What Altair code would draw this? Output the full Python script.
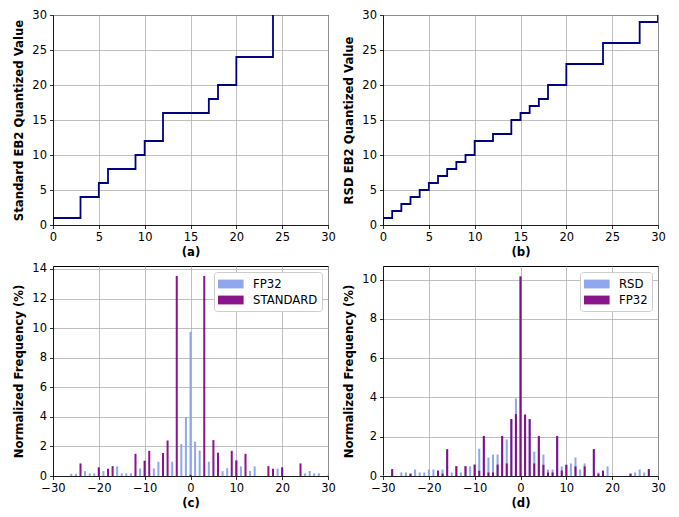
import altair as alt
import pandas as pd

# ---------------- data ----------------
# (a) Standard EB2 quantization (step-post)
a_x = [0, 0, 3, 5, 6, 9, 10, 12, 17, 18, 20, 24]
a_y = [0, 1, 4, 6, 8, 10, 12, 16, 18, 20, 24, 30]

# (b) RSD EB2 quantization (step-post)
b_x = [0, 0, 1, 2, 3, 4, 5, 6, 7, 8, 9, 10, 12, 14, 15, 16, 17, 18, 20, 24, 28, 30]
b_y = [0, 1, 2, 3, 4, 5, 6, 7, 8, 9, 10, 12, 13, 15, 16, 17, 18, 20, 23, 26, 29, 30]

# (c) FP32 vs STANDARD histogram (normalized frequency, %)
c_fp32_x = [-26, -25, -23, -22, -21, -20, -19, -16, -15, -14, -13, -11, -10, -8, -7, -4,
            -2, -1, 0, 1, 2, 4, 7, 8, 10, 11, 13, 14, 19, 20, 25, 26, 27, 28, 30]
c_fp32_y = [0.15, 0.15, 0.33, 0.18, 0.18, 0.58, 0.33, 0.65, 0.18, 0.18, 0.18, 0.51, 1.03, 0.51, 0.96, 0.96,
            2.16, 3.97, 9.75, 2.32, 1.72, 0.96, 0.33, 0.53, 1.05, 0.65, 0.33, 0.65, 0.50, 0.58, 0.18, 0.33, 0.18, 0.18, 0.04]
c_std_x = [-24, -20, -18, -17, -12, -10, -9, -6, -5, -3, 0, 3, 5, 6, 9, 10, 12, 17, 18, 20, 24]
c_std_y = [0.85, 0.58, 0.49, 0.67, 1.50, 1.03, 1.70, 1.56, 2.40, 13.53, 0.08, 13.53, 2.43, 1.58, 1.70, 1.05,
           1.50, 0.67, 0.49, 0.58, 0.85]

# (d) RSD vs FP32 histogram (normalized frequency, %)
d_rsd_x = [-30, -28, -26, -25, -24, -23, -22, -21, -20, -19, -18, -17, -16, -15, -14, -13, -12, -11, -10,
           -9, -8, -7, -6, -5, -4, -3, -2, -1, 0, 1, 2, 3, 4, 5, 6, 7, 8, 9, 10, 11, 12, 13, 14, 16,
           17, 18, 19, 24, 25, 26, 27, 28]
d_rsd_y = [0.05, 0.35, 0.18, 0.18, 0.12, 0.33, 0.18, 0.18, 0.33, 0.33, 0.27, 0.33, 1.36, 0.18, 0.50, 0.18, 0.50, 0.49, 0.58,
           1.39, 2.04, 0.94, 1.09, 1.09, 2.04, 1.86, 2.90, 3.95, 10.17, 3.13, 2.90, 1.24, 2.04, 1.09, 0.33, 0.33, 2.04, 0.49, 0.57, 0.64, 0.94, 0.33, 0.64, 1.37,
           0.18, 0.27, 0.49, 0.12, 0.18, 0.33, 0.18, 0.35]
d_fp32_x = [-28, -24, -18, -17, -16, -14, -12, -10, -9, -8, -7, -6, -5, -4, -3, -2, -1, 0,
            1, 2, 3, 4, 5, 6, 7, 8, 9, 10, 12, 14, 16, 17, 18, 24, 28]
d_fp32_y = [0.35, 0.12, 0.27, 0.12, 1.36, 0.50, 0.50, 0.58, 0.27, 2.04, 0.18, 0.18, 0.58, 2.04, 0.64, 2.90, 3.15, 10.17,
            3.13, 2.90, 0.64, 2.04, 0.57, 0.18, 0.18, 2.04, 0.28, 0.57, 0.49, 0.49, 1.37, 0.12, 0.27, 0.12, 0.35]

BLUE = "#86a0ec"
PURPLE = "#800080"
LINE = "#000080"
W, H = 275, 210
FS_LABEL = 11.5
FS_TITLE = 11.7


def step_panel(xs, ys, ytitle, xtitle):
    df = pd.DataFrame({"x": xs, "y": ys, "i": list(range(len(xs)))})
    return alt.Chart(df).mark_line(
        interpolate="step-after", color=LINE, strokeWidth=1.8, clip=True
    ).encode(
        x=alt.X("x:Q", scale=alt.Scale(domain=[0, 30], nice=False),
                axis=alt.Axis(values=list(range(0, 31, 5)), title=xtitle)),
        y=alt.Y("y:Q", scale=alt.Scale(domain=[0, 30], nice=False),
                axis=alt.Axis(values=list(range(0, 31, 5)), title=ytitle)),
        order=alt.Order("i:Q"),
    ).properties(width=W, height=H)


def hist_panel(n1, x1, y1, n2, x2, y2, ymax, yvals, xtitle):
    rows = []
    k = 0
    for xv, yv in zip(x1, y1):
        rows.append({"x": xv, "v": yv, "s": n1, "k": k}); k += 1
    for xv, yv in zip(x2, y2):
        rows.append({"x": xv, "v": yv, "s": n2, "k": k}); k += 1
    df = pd.DataFrame(rows)
    return alt.Chart(df).transform_calculate(
        xa="datum.x - 0.22", xb="datum.x + 0.22"
    ).mark_bar(clip=True, opacity=0.92).encode(
        x=alt.X("xa:Q", scale=alt.Scale(domain=[-30, 30], nice=False),
                axis=alt.Axis(values=[-30, -20, -10, 0, 10, 20, 30], title=xtitle)),
        x2="xb:Q",
        y=alt.Y("v:Q", stack=None, scale=alt.Scale(domain=[0, ymax], nice=False),
                axis=alt.Axis(values=yvals, title="Normalized Frequency (%)")),
        y2=alt.datum(0),
        color=alt.Color("s:N", scale=alt.Scale(domain=[n1, n2], range=[BLUE, PURPLE]),
                        legend=alt.Legend(
                            title=None, orient="top-right", offset=6,
                            fillColor="white", strokeColor="#cccccc", cornerRadius=3,
                            padding=4, symbolType="M-1,-0.55h3.2v1.1h-3.2z",
                            symbolSize=256, symbolStrokeWidth=0, labelOffset=19,
                            labelFontSize=FS_TITLE, labelColor="black", rowPadding=1,
                        )),
        order=alt.Order("k:Q"),
    ).properties(width=W, height=H)


pa = step_panel(a_x, a_y, "Standard EB2 Quantized Value", "(a)")
pb = step_panel(b_x, b_y, "RSD EB2 Quantized Value", "(b)")
pc = hist_panel("FP32", c_fp32_x, c_fp32_y, "STANDARD", c_std_x, c_std_y,
                14.2, [0, 2, 4, 6, 8, 10, 12, 14], "(c)")
pd_ = hist_panel("RSD", d_rsd_x, d_rsd_y, "FP32", d_fp32_x, d_fp32_y,
                 10.7, [0, 2, 4, 6, 8, 10], "(d)")

chart = alt.concat(
    pa, pb, pc, pd_, columns=2, spacing={"row": 41, "column": 55}, bounds="flush"
).resolve_scale(color="independent").configure(
    font="DejaVu Sans",
    padding={"left": 5, "top": 0, "right": 2, "bottom": 0},
).configure_axis(
    labelFontSize=FS_LABEL, titleFontSize=FS_TITLE, titleFontWeight="bold",
    labelColor="black", titleColor="black", domainColor="black", tickColor="black",
    tickSize=3.5, tickWidth=0.8, domainWidth=0.8, gridColor="#b0b0b0", gridWidth=0.8,
    labelPadding=3, titlePadding=3, labelFlush=False, labelOverlap=False,
).configure_axisY(
    titlePadding=7,
).configure_view(
    stroke="black", strokeWidth=1,
)

chart.save("out.html", embed_options={"renderer": "svg", "actions": False})
